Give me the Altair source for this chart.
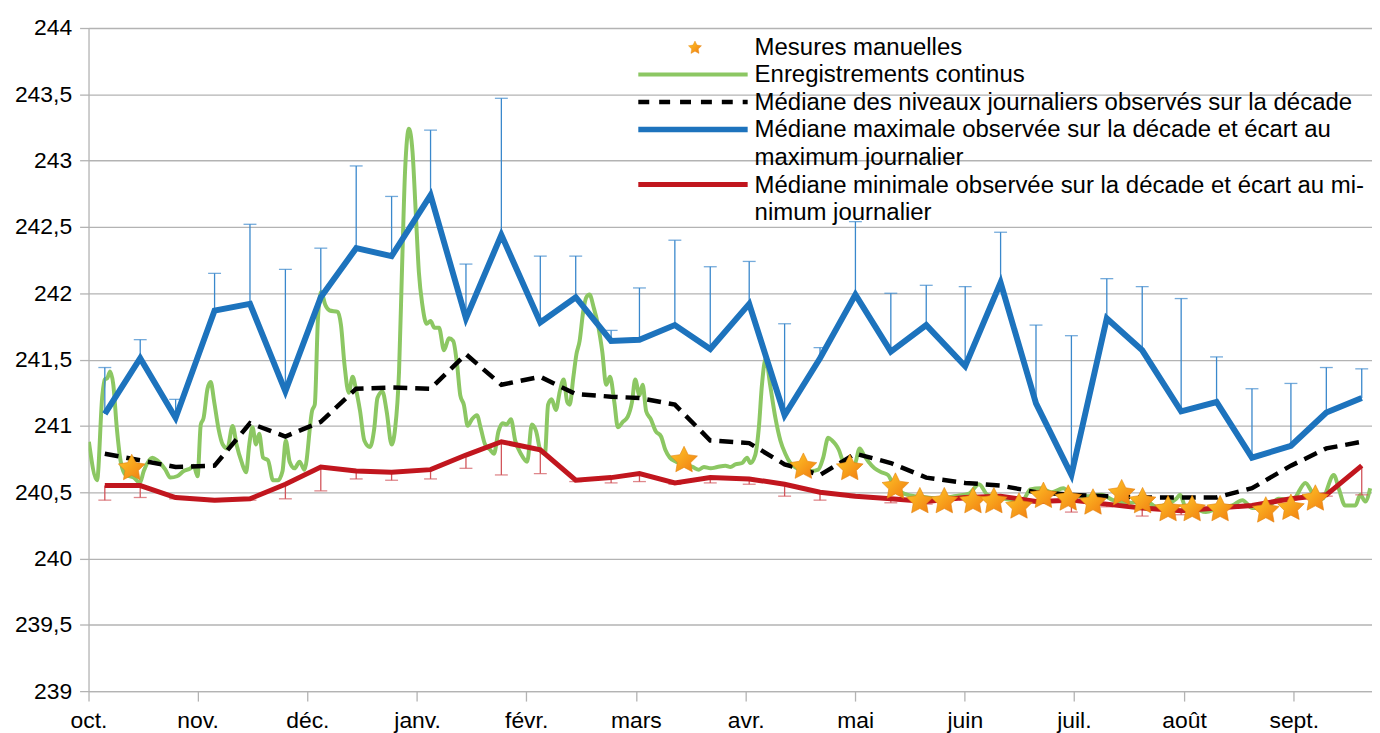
import altair as alt
import pandas as pd

# ---------------- data ----------------
month_labels = ["oct.", "nov.", "déc.", "janv.", "févr.", "mars", "avr.", "mai", "juin", "juil.", "août", "sept."]
month_ticks = [-4.6, 26.2, 57.2, 88.2, 119.0, 150.0, 181.0, 211.9, 242.9, 273.7, 304.8, 335.8]
y_ticks = [239, 239.5, 240, 240.5, 241, 241.5, 242, 242.5, 243, 243.5, 244]

# decade start days (days since 1 Oct)
decade_days = [0, 10, 20, 31, 41, 51, 61, 71, 81, 92, 102, 112, 123, 133, 143, 151, 161, 171,
               182, 192, 202, 212, 222, 232, 243, 253, 263, 273, 283, 293, 304, 314, 324, 335, 345, 355]
max_median = [241.09, 241.51, 241.06, 241.87, 241.92, 241.26, 241.97, 242.34, 242.28, 242.74, 241.81, 242.44,
              241.78, 241.97, 241.64, 241.65, 241.76, 241.58, 241.92, 241.08, 241.51, 241.99, 241.56, 241.76,
              241.45, 242.08, 241.17, 240.63, 241.81, 241.57, 241.11, 241.18, 240.76, 240.85, 241.10, 241.21]
max_daily = [241.44, 241.65, 241.20, 242.15, 242.52, 242.18, 242.34, 242.96, 242.73, 243.23, 242.22, 243.47,
             242.28, 242.28, 241.72, 242.04, 242.40, 242.20, 242.24, 241.77, 241.59, 242.54, 242.00, 242.06,
             242.05, 242.46, 241.76, 241.68, 242.11, 242.05, 241.96, 241.52, 241.28, 241.32, 241.44, 241.43]
min_median = [240.55, 240.55, 240.46, 240.44, 240.45, 240.56, 240.69, 240.66, 240.65, 240.67, 240.78, 240.88,
              240.82, 240.59, 240.61, 240.64, 240.57, 240.61, 240.60, 240.56, 240.50, 240.47, 240.45, 240.43,
              240.46, 240.47, 240.43, 240.44, 240.41, 240.38, 240.36, 240.38, 240.40, 240.45, 240.48, 240.70]
min_daily = [240.44, 240.46, 240.45, 240.43, 240.44, 240.45, 240.51, 240.60, 240.59, 240.60, 240.68, 240.63,
             240.64, 240.58, 240.57, 240.58, 240.56, 240.57, 240.56, 240.47, 240.44, 240.46, 240.42, 240.41,
             240.44, 240.46, 240.42, 240.35, 240.39, 240.32, 240.33, 240.37, 240.39, 240.44, 240.47, 240.48]
median_levels = [240.79, 240.74, 240.69, 240.70, 241.02, 240.92, 241.03, 241.28, 241.29, 241.28, 241.54, 241.31,
                 241.37, 241.24, 241.22, 241.21, 241.16, 240.89, 240.87, 240.71, 240.63, 240.79, 240.72, 240.61,
                 240.57, 240.55, 240.50, 240.48, 240.47, 240.46, 240.46, 240.46, 240.53, 240.70, 240.83, 240.88]

# continuous recordings
green_days = [-4.5, -2.2, -0.7, 0, 0.7, 1.5, 2.4, 3.4, 4.5, 5.9, 8.2, 9.9, 11.0, 13.4, 14.8, 17.1, 18.5, 20.4,
              22.3, 24.2, 25.1, 26.2, 27.1, 27.9, 29.0, 29.9, 30.9, 32.1, 33.3, 34.6, 36.1, 37.2, 38.6, 39.9,
              40.8, 41.7, 42.7, 43.6, 44.7, 46.1, 47.5, 48.9, 50.2, 51.1, 52.2, 53.6, 55.0, 56.4, 58.6, 59.3,
              60.2, 61.1, 62.3, 63.5, 65.8, 66.7, 67.7, 68.9, 70.0, 70.9, 72.1, 73.3, 74.9, 76.1, 77.0, 78.4,
              79.6, 81.0, 82.0, 83.1, 84.0, 84.8, 85.9, 86.9, 87.8, 88.7, 89.7, 90.9, 92.0, 93.1, 94.4, 95.8,
              97.2, 98.4, 99.5, 100.4, 101.4, 102.5, 103.7, 105.1, 106.2, 107.4, 108.8, 109.9, 111.2, 112.4,
              113.5, 114.7, 115.9, 117.5, 119.3, 120.6, 121.8, 123.1, 124.3, 125.2, 126.2, 127.4, 128.5, 129.6,
              130.6, 131.3, 132.3, 133.2, 134.1, 135.1, 136.0, 136.9, 138.1, 139.3, 140.5, 141.6, 142.7, 143.9,
              144.9, 146.3, 147.7, 148.9, 149.8, 151.0, 151.9, 152.9, 154.2, 155.6, 157.1, 158.3, 159.6, 161.3,
              163.6, 166.0, 167.8, 169.2, 171.1, 173.0, 175.3, 176.7, 178.1, 180.0, 181.4, 182.3, 183.7, 184.7,
              185.6, 186.7, 187.9, 189.4, 190.8, 192.2, 193.6, 195.5, 197.8, 199.7, 201.5, 202.9, 204.3, 205.4,
              206.4, 207.3, 208.5, 209.9, 211.8, 213.2, 214.4, 215.7, 217.4, 219.3, 221.2, 223.0, 224.9, 226.8,
              228.7, 232.3, 235.7, 239.9, 244.1, 246.9, 249.3, 252.5, 256.7, 259.5, 261.4, 264.2, 267.4, 270.7,
              273.6, 277.8, 281.5, 284.8, 289.1, 294.2, 297.0, 300.3, 302.6, 303.7, 305.4, 307.3, 311.0, 314.3,
              318.5, 321.3, 324.1, 327.8, 331.6, 335.4, 339.1, 341.0, 343.8, 347.1, 348.6, 350.3, 353.2, 354.6,
              356.0, 357.4]
green_levels = [240.88, 240.59, 241.23, 241.35, 241.36, 241.41, 241.31, 240.98, 240.73, 240.63, 240.61, 240.57,
                240.66, 240.76, 240.74, 240.67, 240.61, 240.62, 240.66, 240.68, 240.70, 240.62, 241.01, 241.06,
                241.28, 241.33, 241.18, 240.98, 240.86, 240.83, 241.00, 240.86, 240.73, 240.65, 240.86, 240.99,
                240.86, 240.94, 240.76, 240.74, 240.59, 240.59, 240.66, 240.89, 240.73, 240.68, 240.73, 240.67,
                241.12, 241.16, 241.81, 242.01, 241.91, 241.87, 241.86, 241.76, 241.46, 241.25, 241.37, 241.28,
                241.11, 240.89, 240.84, 240.98, 241.21, 241.26, 241.11, 240.86, 240.98, 241.41, 242.24, 242.92,
                243.24, 243.07, 242.62, 242.16, 241.91, 241.77, 241.79, 241.74, 241.74, 241.57, 241.66, 241.64,
                241.46, 241.23, 241.16, 241.00, 241.05, 241.08, 240.98, 240.86, 240.82, 240.79, 240.96, 241.02,
                241.01, 241.05, 240.89, 240.79, 240.73, 241.01, 240.96, 240.81, 240.79, 241.16, 241.20, 241.12,
                241.26, 241.35, 241.18, 241.16, 241.36, 241.54, 241.64, 241.86, 241.97, 241.99, 241.89, 241.76,
                241.56, 241.31, 241.37, 241.18, 240.99, 241.03, 241.07, 241.18, 241.35, 241.23, 241.31, 241.11,
                241.05, 240.96, 240.92, 240.82, 240.76, 240.73, 240.71, 240.69, 240.67, 240.69, 240.68, 240.69,
                240.70, 240.69, 240.71, 240.72, 240.76, 240.72, 240.78, 240.98, 241.31, 241.51, 241.31, 241.06,
                240.89, 240.79, 240.72, 240.68, 240.66, 240.66, 240.67, 240.76, 240.91, 240.89, 240.86, 240.82,
                240.73, 240.69, 240.71, 240.83, 240.78, 240.73, 240.68, 240.65, 240.63, 240.54, 240.50, 240.48,
                240.47, 240.46, 240.45, 240.47, 240.49, 240.56, 240.48, 240.46, 240.44, 240.45, 240.52, 240.53,
                240.50, 240.53, 240.47, 240.47, 240.48, 240.44, 240.42, 240.43, 240.39, 240.41, 240.45, 240.48,
                240.38, 240.38, 240.35, 240.38, 240.40, 240.44, 240.38, 240.38, 240.45, 240.44, 240.57, 240.50,
                240.45, 240.63, 240.52, 240.40, 240.40, 240.48, 240.43, 240.53]

# manual measurements
star_days = [7.6, 163.6, 197.3, 210.4, 223.3, 230.2, 237.1, 245.2, 251.1, 258.2, 265.1, 272.1, 279.1, 287.2,
             293.1, 300.3, 307.1, 315.0, 327.9, 335.0, 341.9]
star_levels = [240.68, 240.74, 240.69, 240.68, 240.54, 240.43, 240.43, 240.43, 240.43, 240.39, 240.47, 240.45,
               240.42, 240.49, 240.43, 240.37, 240.37, 240.37, 240.36, 240.38, 240.45]

legend_texts = [
    "Mesures manuelles",
    "Enregistrements continus",
    "Médiane des niveaux journaliers observés sur la décade",
    "Médiane maximale observée sur la décade et écart au",
    "maximum journalier",
    "Médiane minimale observée sur la décade et écart au mi-",
    "nimum journalier",
]

# ---------------- styles ----------------
FONT = "Liberation Sans"
GREEN = "#8cc763"
BLUE = "#1d73bd"
BLUE_BAR = "#3a88cc"
RED = "#c1161e"
RED_BAR = "#d2555b"
GRID = "#b3b3b3"
W, H = 1291, 667

STAR = ("M0,-1 L0.294,-0.405 L0.951,-0.309 L0.476,0.155 L0.588,0.809 L0,0.5 "
        "L-0.588,0.809 L-0.476,0.155 L-0.951,-0.309 L-0.294,-0.405 Z")
star_fill = alt.LinearGradient(
    gradient="linear",
    stops=[alt.GradientStop(color="#ffc928", offset=0), alt.GradientStop(color="#f07a10", offset=1)],
    x1=0, y1=0, x2=1, y2=1,
)

dec = pd.DataFrame({
    "d": decade_days, "max_med": max_median, "max_top": max_daily,
    "min_med": min_median, "min_low": min_daily, "med": median_levels,
})
green = pd.DataFrame({"d": green_days, "v": green_levels})
stars = pd.DataFrame({"d": star_days, "v": star_levels})

xs = alt.Scale(domain=[-4.6, 357.9], nice=False, zero=False)
ys = alt.Scale(domain=[239, 244], nice=False, zero=False)

label_arr = "[" + ",".join("'" + m + "'" for m in month_labels) + "]"
x_axis = alt.Axis(
    values=month_ticks, title=None, grid=False, labelFlush=False,
    labelExpr=label_arr + "[indexof(" + str(month_ticks) + ", datum.value)]",
    domainColor=GRID, domainWidth=1.3, tickColor=GRID, tickWidth=1.3, tickSize=10,
    labelFont=FONT, labelFontSize=23, labelColor="black", labelPadding=9,
)
y_axis = alt.Axis(
    values=y_ticks, title=None, grid=True, gridColor=GRID, gridWidth=1.3,
    labelExpr="replace(format(datum.value, '.1~f'), '.', ',')",
    domainColor=GRID, domainWidth=1.3, tickColor=GRID, tickWidth=1.3, tickSize=9,
    labelFont=FONT, labelFontSize=23, labelColor="black", labelPadding=8,
)


def X(field="d"):
    return alt.X(f"{field}:Q", scale=xs, axis=x_axis, title=None)


def Y(field):
    return alt.Y(f"{field}:Q", scale=ys, axis=y_axis, title=None)


green_line = alt.Chart(green).mark_line(
    color=GREEN, strokeWidth=4, interpolate="monotone", clip=True
).encode(x=X(), y=Y("v"))

median_line = alt.Chart(dec).mark_line(
    color="black", strokeWidth=4.5, strokeDash=[14, 8], strokeCap="butt"
).encode(x=X(), y=Y("med"))

blue_bar = alt.Chart(dec).mark_rule(color=BLUE_BAR, strokeWidth=1.3).encode(
    x=X(), y=Y("max_med"), y2="max_top:Q")
blue_cap = alt.Chart(dec).mark_tick(color=BLUE_BAR, orient="horizontal", size=13, thickness=1.3).encode(
    x=X(), y=Y("max_top"))
blue_line = alt.Chart(dec).mark_line(color=BLUE, strokeWidth=6).encode(x=X(), y=Y("max_med"))

red_bar = alt.Chart(dec).mark_rule(color=RED_BAR, strokeWidth=1.3).encode(
    x=X(), y=Y("min_low"), y2="min_med:Q")
red_cap = alt.Chart(dec).mark_tick(color=RED_BAR, orient="horizontal", size=13, thickness=1.3).encode(
    x=X(), y=Y("min_low"))
red_line = alt.Chart(dec).mark_line(color=RED, strokeWidth=5).encode(x=X(), y=Y("min_med"))

star_pts = alt.Chart(stars).mark_point(
    shape=STAR, size=800, filled=True, fill=star_fill, stroke="#e3820f", strokeWidth=0.6, opacity=1
).encode(x=X(), y=Y("v"))

# ---------------- legend (drawn in the top right of the plot) ----------------
one = pd.DataFrame({"k": [0]})
LX0, LX1, TX = 553, 663, 670
row_y = [19 + 27.7 * i for i in range(7)]
legend_layers = [
    alt.Chart(one).mark_point(shape=STAR, size=190, filled=True, fill=star_fill, stroke="#e3820f",
                              strokeWidth=0.4, opacity=1).encode(x=alt.value(610), y=alt.value(row_y[0] + 1)),
    alt.Chart(one).mark_rule(color=GREEN, strokeWidth=4).encode(
        x=alt.value(LX0), x2=alt.value(LX1), y=alt.value(row_y[1])),
    alt.Chart(one).mark_rule(color="black", strokeWidth=4.5, strokeDash=[11, 10], strokeCap="butt").encode(
        x=alt.value(LX0), x2=alt.value(LX1), y=alt.value(row_y[2])),
    alt.Chart(one).mark_rule(color=BLUE, strokeWidth=5.5).encode(
        x=alt.value(LX0), x2=alt.value(LX1), y=alt.value(row_y[3])),
    alt.Chart(one).mark_rule(color=RED, strokeWidth=5).encode(
        x=alt.value(LX0), x2=alt.value(LX1), y=alt.value(row_y[5])),
]
for i, t in enumerate(legend_texts):
    legend_layers.append(
        alt.Chart(one).mark_text(
            align="left", baseline="middle", font=FONT, fontSize=24.1, color="black"
        ).encode(x=alt.value(TX), y=alt.value(row_y[i] + 1), text=alt.value(t))
    )

chart = alt.layer(
    green_line, median_line, blue_bar, blue_cap, blue_line, red_bar, red_cap, red_line, star_pts,
    *legend_layers,
).properties(
    width=W, height=H,
    autosize=alt.AutoSizeParams(type="none"),
    padding={"left": 81, "top": 18, "right": 0, "bottom": 40},
    background="white",
).configure_view(stroke=None)

chart.save("out.html", embed_options={"renderer": "svg", "actions": False})
